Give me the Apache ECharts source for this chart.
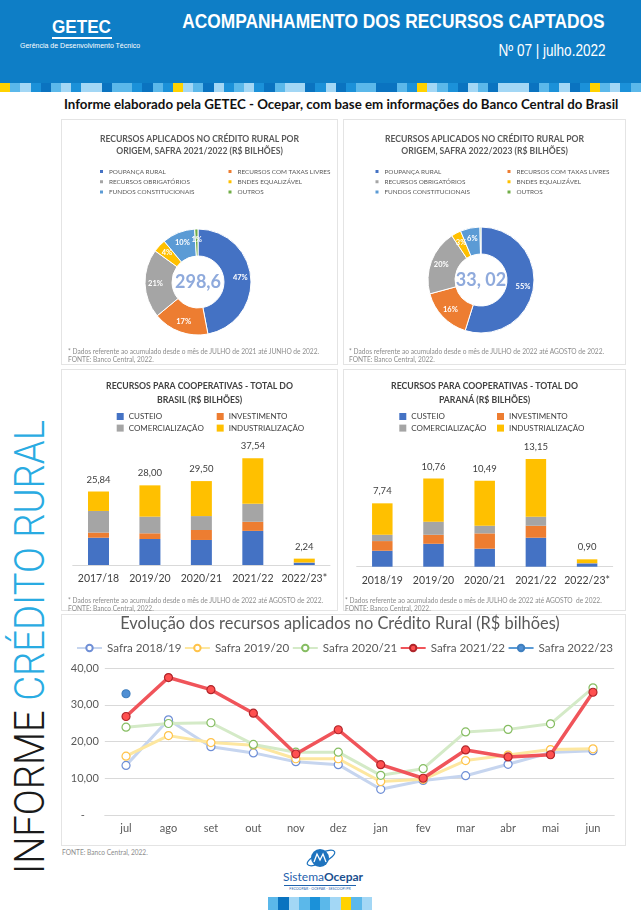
<!DOCTYPE html>
<html><head><meta charset="utf-8">
<script src="https://cdn.jsdelivr.net/npm/echarts@6/dist/echarts.min.js"></script>
<style>
html,body{margin:0;padding:0;background:#fff;width:641px;height:910px;overflow:hidden;}
#page{position:relative;width:641px;height:910px;font-family:Lato,'Open Sans',sans-serif;}
.abs{position:absolute;}
.panel{position:absolute;border:1px solid #e4e4e4;box-sizing:border-box;background:#fff;}
.chart{position:absolute;}
.note{position:absolute;font-size:6.6px;color:#8c8c8c;line-height:8px;white-space:nowrap;}
</style></head>
<body><div id="page">
<div class="abs" style="left:0;top:0;width:641px;height:84px;background:#0e7ec6"></div>
<div id="strip" class="abs" style="left:0;top:83px;width:641px;height:9px;display:flex"></div>
<div class="abs" style="left:52px;top:17px;font-family:'Liberation Sans',Arial,sans-serif;font-weight:bold;font-size:19px;line-height:19px;color:#fff;transform-origin:left center;transform:scaleX(0.9);white-space:nowrap">GETEC</div>
<div class="abs" style="left:52px;top:37px;width:60px;height:2px;background:#fff"></div>
<div class="abs" style="left:20px;top:42px;font-family:'Liberation Sans',Arial,sans-serif;font-size:7px;line-height:8px;color:#fff;white-space:nowrap">Gerência de Desenvolvimento Técnico</div>
<div class="abs" style="right:36px;top:11px;font-family:'Liberation Sans',Arial,sans-serif;font-weight:bold;font-size:19.5px;line-height:20px;color:#fff;transform-origin:right center;transform:scaleX(0.89);white-space:nowrap">ACOMPANHAMENTO DOS RECURSOS CAPTADOS</div>
<div class="abs" style="right:36px;top:41.5px;font-family:'Liberation Sans',Arial,sans-serif;font-size:16.5px;line-height:17px;color:#fff;transform-origin:right center;transform:scaleX(0.82);white-space:nowrap">Nº 07 | julho.2022</div>
<div class="abs" style="left:64px;top:95.5px;font-size:13.3px;line-height:17px;color:#111;white-space:nowrap;font-weight:bold">Informe elaborado pela GETEC - Ocepar, com base em informações do Banco Central do Brasil</div>

<div class="abs" style="left:8.5px;top:874px;transform-origin:0 0;transform:rotate(-90deg) scaleX(0.91);font-family:Roboto,'Liberation Sans',sans-serif;font-weight:300;font-size:42px;line-height:42px;white-space:nowrap;color:#1a1a1a">INFORME <span style="color:#29abe2">CRÉDITO RURAL</span></div>

<div class="panel" style="left:61px;top:119px;width:277px;height:246px"></div>
<div class="panel" style="left:343px;top:119px;width:283px;height:246px"></div>
<div class="panel" style="left:61px;top:369px;width:277px;height:242px"></div>
<div class="panel" style="left:343px;top:369px;width:283px;height:242px"></div>
<div class="panel" style="left:61px;top:614px;width:565px;height:232px"></div>

<div id="c1" class="chart" style="left:61px;top:119px;width:277px;height:246px"></div>
<div id="c2" class="chart" style="left:343px;top:119px;width:283px;height:246px"></div>
<div id="c3" class="chart" style="left:61px;top:369px;width:277px;height:241px"></div>
<div id="c4" class="chart" style="left:343px;top:369px;width:283px;height:241px"></div>
<div id="c5" class="chart" style="left:61px;top:614px;width:565px;height:232px"></div>

<div class="note" style="left:68px;top:347px">* Dados referente ao acumulado desde o mês de JULHO de 2021 até JUNHO de 2022.<br>FONTE: Banco Central, 2022.</div>
<div class="note" style="left:349px;top:347px">* Dados referente ao acumulado desde o mês de JULHO de 2022 até AGOSTO de 2022.<br>FONTE: Banco Central, 2022.</div>
<div class="note" style="left:68px;top:596px">* Dados referente ao acumulado desde o mês de JULHO de 2022 até AGOSTO de 2022.<br>FONTE: Banco Central, 2022.</div>
<div class="note" style="left:345px;top:596px">* Dados referente ao acumulado desde o mês de JULHO de 2022 até AGOSTO&nbsp; de 2022.<br>FONTE: Banco Central, 2022.</div>
<div class="note" style="left:62px;top:848px">FONTE: Banco Central, 2022.</div>

<svg class="abs" style="left:300px;top:846px" width="40" height="26" viewBox="0 0 40 26">
  <ellipse cx="21" cy="12" rx="15" ry="5" fill="none" stroke="#1e73be" stroke-width="1.2" transform="rotate(-25 21 12)"/>
  <circle cx="20" cy="12" r="9" fill="#1e73be"/>
  <polyline points="14,16 17,8 20,14 23,8 26,16" fill="none" stroke="#fff" stroke-width="1.3"/>
</svg>
<div class="abs" style="left:283px;top:870px;width:74px;text-align:center;font-size:12px;line-height:14px;color:#1f62ad;white-space:nowrap">Sistema<b style="color:#1a4f8f">Ocepar</b></div>
<div class="abs" style="left:284px;top:885px;width:72px;height:0.6px;background:#1f62ad"></div>
<div class="abs" style="left:283px;top:886px;width:74px;text-align:center;font-size:3.6px;line-height:5px;color:#1f62ad;white-space:nowrap">FECOOPAR - OCEPAR - SESCOOP/PR</div>
<div id="strip2" class="abs" style="left:268px;top:897px;width:104px;height:13px;display:flex"></div>
</div>
<script>
// ---------- data ----------
const pieNames = ['POUPANÇA RURAL','RECURSOS COM TAXAS LIVRES','RECURSOS OBRIGATÓRIOS','BNDES EQUALIZÁVEL','FUNDOS CONSTITUCIONAIS','OUTROS'];
const pie2122 = [47,17,21,4,10,1];
const pie2223 = [55,16,20,3,6,0.3];
const pieTotal2122 = '298,6';
const pieTotal2223 = '33, 02';

const barNames = ['CUSTEIO','INVESTIMENTO','COMERCIALIZAÇÃO','INDUSTRIALIZAÇÃO'];
const brCategories = ['2017/18','2019/20','2020/21','2021/22','2022/23*'];
const brCusteio = [9.6,9.15,8.8,12.0,0.8];
const brInvest  = [1.8,2.0,3.5,3.2,0.05];
const brComerc  = [7.6,5.85,4.9,6.3,0.05];
const brIndust  = [6.84,11.0,12.3,16.04,1.34];
const brTotals  = [25.84,28.00,29.50,37.54,2.24];

const prCategories = ['2018/19','2019/20','2020/21','2021/22','2022/23*'];
const prCusteio = [1.95,2.8,2.2,3.54,0.4];
const prInvest  = [1.18,1.1,1.87,1.46,0.02];
const prComerc  = [0.77,1.6,0.93,1.1,0.02];
const prIndust  = [3.84,5.26,5.49,7.05,0.46];
const prTotals  = [7.74,10.76,10.49,13.15,0.90];

const months = ['jul','ago','set','out','nov','dez','jan','fev','mar','abr','mai','jun'];
const safra1819 = [13.5,25.9,18.6,16.9,14.5,13.7,7.0,9.4,10.7,13.8,17.0,17.5];
const safra1920 = [16.0,21.6,19.7,19.0,15.3,15.3,9.1,9.7,14.8,16.3,17.8,18.0];
const safra2021 = [23.9,24.9,25.1,19.2,17.1,17.1,10.8,12.6,22.6,23.3,24.8,34.6];
const safra2122 = [26.8,37.4,34.1,27.7,16.6,23.2,13.7,10.0,17.7,15.8,16.4,33.4];
const safra2223 = [33.0,null,null,null,null,null,null,null,null,null,null,null];

// ---------- decoration ----------
const stripCol = {Y:'#ffd200',L:'#5bb8ea',P:'#a3d7f5',M:'#1b91d9',D:'#0a73c0'};
function fillStrip(id, pat){
  const el = document.getElementById(id);
  for (const ch of pat){ const d=document.createElement('div'); d.style.flex='1'; d.style.background=stripCol[ch]; el.appendChild(d); }
}
fillStrip('strip','YLPMDLPMPPDLLMDLMYPLDPMLPMDLPPDMPDMLLDDLMYPLMDPLDPPPDLMPDMYLPML');
fillStrip('strip2','LDPLMLPYLP');

const F = 'Lato, "Open Sans", sans-serif';
const pieColors = ['#4472c4','#ed7d31','#a5a5a5','#ffc000','#5b9bd5','#70ad47'];
const barColors = ['#4472c4','#ed7d31','#a5a5a5','#ffc000'];
const fmt = v => v.toFixed(2).replace('.', ',');

function pieOption(title, values, total, l1, l2, center){
  const leg = (data,left)=>({data, orient:'vertical', left, top:48.5, padding:0, itemWidth:5, itemHeight:5, itemGap:2.3, icon:'rect', selectedMode:false,
     textStyle:{fontFamily:F, fontSize:6.4, color:'#595959', lineHeight:8}});
  return {
    animation:false,
    textStyle:{fontFamily:F},
    title:{text:title, left:'center', top:14, padding:0, textStyle:{fontFamily:F, fontSize:8.6, fontWeight:'bold', color:'#595959', lineHeight:12}},
    legend:[leg([pieNames[0],pieNames[2],pieNames[4]], l1), leg([pieNames[1],pieNames[3],pieNames[5]], l2)],
    graphic:[{type:'text', x:center[0], y:center[1], silent:true,
      style:{text:total, textAlign:'center', textVerticalAlign:'middle', fill:'#8faadc', fontSize:18, fontWeight:'bold', fontFamily:F}}],
    series:[{type:'pie', radius:[26,53], center, startAngle:90, avoidLabelOverlap:false,
      data: pieNames.map((n,i)=>({name:n, value:values[i], itemStyle:{color:pieColors[i]}})),
      itemStyle:{borderColor:'#fff', borderWidth:1},
      label:{show:true, position:'inside', formatter:p=>Math.round(p.value)+'%', color:'#fff', fontSize:7.5, fontWeight:'bold', fontFamily:F},
      labelLine:{show:false}, emphasis:{disabled:true}}]
  };
}

function barOption(title, cats, vals, totals, l1, l2, grid, ymax, bw){
  const leg = (data,left)=>({data, orient:'vertical', left, top:42.5, padding:0, itemWidth:7, itemHeight:7, itemGap:1.6, icon:'rect', selectedMode:false,
     textStyle:{fontFamily:F, fontSize:8, color:'#404040', lineHeight:10}});
  return {
    animation:false,
    textStyle:{fontFamily:F},
    title:{text:title, left:'center', top:11, padding:0, textStyle:{fontFamily:F, fontSize:8.7, fontWeight:'bold', color:'#404040', lineHeight:13.3}},
    legend:[leg([barNames[0],barNames[2]], l1), leg([barNames[1],barNames[3]], l2)],
    grid,
    xAxis:{type:'category', data:cats, axisTick:{show:false}, axisLine:{lineStyle:{color:'#d9d9d9'}},
      axisLabel:{fontSize:10.5, color:'#404040', margin:8, interval:0, fontFamily:F}},
    yAxis:{type:'value', min:0, max:ymax, show:false, splitLine:{show:false}},
    series: barNames.map((n,i)=>({name:n, type:'bar', stack:'t', barWidth:bw, data:vals[i], itemStyle:{color:barColors[i]},
      emphasis:{disabled:true},
      label: i===3 ? {show:true, position:'top', distance:7, fontSize:9.5, color:'#404040', fontFamily:F,
                      formatter:p=>fmt(totals[p.dataIndex])} : {show:false}}))
  };
}

const c1 = echarts.init(document.getElementById('c1'));
c1.setOption(pieOption('RECURSOS APLICADOS NO CRÉDITO RURAL POR\nORIGEM, SAFRA 2021/2022 (R$ BILHÕES)', pie2122, pieTotal2122, 37, 165.5, [137,163]));
const c2 = echarts.init(document.getElementById('c2'));
c2.setOption(pieOption('RECURSOS APLICADOS NO CRÉDITO RURAL POR\nORIGEM, SAFRA 2022/2023 (R$ BILHÕES)', pie2223, pieTotal2223, 30.5, 162.5, [138,161]));

const c3 = echarts.init(document.getElementById('c3'));
c3.setOption(barOption('RECURSOS PARA COOPERATIVAS - TOTAL DO\nBRASIL (R$ BILHÕES)', brCategories,
  [brCusteio,brInvest,brComerc,brIndust], brTotals, 55.7, 155.7, {left:11.75, right:8, top:68, bottom:45}, 45, 21));
const c4 = echarts.init(document.getElementById('c4'));
c4.setOption(barOption('RECURSOS PARA COOPERATIVAS - TOTAL DO\nPARANÁ (R$ BILHÕES)', prCategories,
  [prCusteio,prInvest,prComerc,prIndust], prTotals, 56.3, 154, {left:13.7, right:13.3, top:66.7, bottom:43.3}, 16, 20.5));

const c5 = echarts.init(document.getElementById('c5'));
const lineDefs = [
  {name:'Safra 2018/19', data:safra1819, line:'#c6d5ef', border:'#6f8fd6', fill:'#ffffff'},
  {name:'Safra 2019/20', data:safra1920, line:'#fde7a0', border:'#ffc34a', fill:'#ffffff'},
  {name:'Safra 2020/21', data:safra2021, line:'#d4eac7', border:'#86bd62', fill:'#ffffff'},
  {name:'Safra 2021/22', data:safra2122, line:'#f0545a', border:'#b0262b', fill:'#ff5050'},
  {name:'Safra 2022/23', data:safra2223, line:'#5b9bd5', border:'#3f7fbf', fill:'#4f8fd4'}
];
c5.setOption({
  animation:false,
  textStyle:{fontFamily:F},
  title:{text:'Evolução dos recursos aplicados no Crédito Rural (R$ bilhões)', left:279, top:2, textAlign:'center', padding:0,
    textStyle:{fontFamily:F, fontSize:16.4, fontWeight:'normal', color:'#595959'}},
  legend:{top:28, left:15, right:0, padding:0, itemWidth:25, itemHeight:8, itemGap:2.5, selectedMode:false,
    textStyle:{fontFamily:F, fontSize:11.6, color:'#595959'}},
  grid:{left:43.8, right:11.8, top:54, bottom:31},
  xAxis:{type:'category', data:months, boundaryGap:true, axisTick:{show:false}, axisLine:{lineStyle:{color:'#d9d9d9'}},
    axisLabel:{fontSize:11, color:'#595959', margin:8, fontFamily:F}},
  yAxis:{type:'value', min:0, max:40, interval:10, axisLine:{show:false}, axisTick:{show:false},
    splitLine:{lineStyle:{color:'#d9d9d9'}},
    axisLabel:{fontSize:11, color:'#595959', fontFamily:F, margin:6, formatter:v=> v===0 ? '-     ' : fmt(v)}},
  series: lineDefs.map((d,i)=>({name:d.name, type:'line', data:d.data, symbol:'circle', symbolSize:8, connectNulls:false,
    lineStyle:{color:d.line, width: i===3 ? 3.5 : 3}, itemStyle:{color:d.fill, borderColor:d.border, borderWidth:1.2},
    emphasis:{disabled:true}, z: 2+i}))
});
</script>
</body></html>
